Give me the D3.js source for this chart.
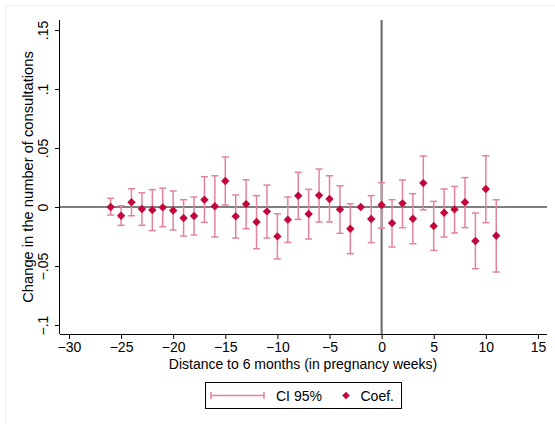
<!DOCTYPE html>
<html>
<head>
<meta charset="utf-8">
<script src="https://cdn.jsdelivr.net/npm/d3@7"></script>
<style>
  html, body { margin: 0; padding: 0; background: #fff; }
  svg { display: block; }
  text { font-family: "Liberation Sans", Arial, Helvetica, sans-serif; fill: #000; }
</style>
</head>
<body>
<svg id="chart" width="555" height="424"></svg>
<script>
// ---- data ----
const weeks = [-26,-25,-24,-23,-22,-21,-20,-19,-18,-17,-16,-15,-14,-13,-12,-11,-10,-9,-8,-7,-6,-5,-4,-3,-2,-1,0,1,2,3,4,5,6,7,8,9,10,11];
const coef  = [0.000,-0.0074,0.0040,-0.0017,-0.0025,-0.0003,-0.0030,-0.0093,-0.0076,0.0062,0.0006,0.0220,-0.0079,0.0025,-0.0127,-0.0037,-0.0249,-0.0107,0.0096,-0.0059,0.0099,0.0068,-0.0020,-0.0184,0.0000,-0.0102,0.0017,-0.0136,0.0031,-0.0099,0.0203,-0.0161,-0.0048,-0.0020,0.0040,-0.0288,0.0153,-0.0243];
const ciHi  = [0.0074,0.0010,0.0155,0.0120,0.0147,0.0160,0.0136,0.0062,0.0085,0.0257,0.0265,0.0424,0.0102,0.0231,0.0096,0.0186,-0.0057,0.0085,0.0294,0.0150,0.0322,0.0265,0.0180,0.0028,0.0000,0.0096,0.0206,0.0062,0.0229,0.0113,0.0432,0.0048,0.0153,0.0175,0.0249,-0.0051,0.0435,0.0062];
const ciLo  = [-0.0068,-0.0155,-0.0074,-0.0155,-0.0200,-0.0167,-0.0195,-0.0246,-0.0237,-0.0130,-0.0254,0.0017,-0.0263,-0.0184,-0.0353,-0.0263,-0.0440,-0.0300,-0.0105,-0.0271,-0.0127,-0.0127,-0.0223,-0.0396,0.0000,-0.0302,-0.0178,-0.0339,-0.0175,-0.0311,-0.0023,-0.0367,-0.0254,-0.0220,-0.0175,-0.0523,-0.0133,-0.0551];
const xTicks = [-30,-25,-20,-15,-10,-5,0,5,10,15];
const yTicks = [-0.1,-0.05,0,0.05,0.1,0.15];
const yTickLabels = ["\u2212.1","\u2212.05","0",".05",".1",".15"];
const xTitle = "Distance to 6 months (in pregnancy weeks)";
const yTitle = "Change in the number of consultations";
const legendLabels = ["CI 95%","Coef."];

const data = weeks.map((w,i)=>({w, c: coef[i], lo: ciLo[i], hi: ciHi[i]}));

const markerColor = "#c4063b";
const ciColor = "#e3839b";

const svg = d3.select("#chart");
const pLeft = 60, pRight = 547, pTop = 20, pBottom = 334;

const x = d3.scaleLinear().domain([-30.86, 15.87]).range([pLeft, pRight]);
const y = d3.scaleLinear().domain([-0.1076, 0.1585]).range([pBottom, pTop]);

// faint outer frame
svg.append("rect").attr("x",5.5).attr("y",5.5).attr("width",560).attr("height",430)
  .attr("fill","none").attr("stroke","#eeeeee").attr("stroke-width",1);

// reference lines
svg.append("line").attr("x1",pLeft).attr("x2",pRight).attr("y1",y(0)).attr("y2",y(0))
  .attr("stroke","#555").attr("stroke-width",1.6);
svg.append("line").attr("x1",x(0)).attr("x2",x(0)).attr("y1",pTop).attr("y2",pBottom)
  .attr("stroke","#666").attr("stroke-width",2);

// axes
const xAxis = d3.axisBottom(x).tickValues(xTicks).tickSize(5).tickPadding(3)
  .tickFormat(d => d < 0 ? "\u2212" + Math.abs(d) : String(d));
const gx = svg.append("g").attr("transform",`translate(0,${pBottom})`).call(xAxis);
gx.select(".domain").attr("d",`M${pLeft},0.5H${pRight}`).attr("stroke","#000").attr("stroke-width",1);
gx.selectAll(".tick line").attr("stroke","#000");
gx.selectAll(".tick text").attr("font-size",14).attr("fill","#000")
  .attr("font-family","'Liberation Sans', Arial, sans-serif");

const yAxis = d3.axisLeft(y).tickValues(yTicks).tickSize(5).tickPadding(4)
  .tickFormat((d,i)=>yTickLabels[i]);
const gy = svg.append("g").attr("transform",`translate(${pLeft},0)`).call(yAxis);
gy.select(".domain").attr("d",`M-0.5,${pTop}V${pBottom}`).attr("stroke","#000").attr("stroke-width",1);
gy.selectAll(".tick line").attr("stroke","#000");
gy.selectAll(".tick text")
  .attr("font-size",14).attr("fill","#000")
  .attr("font-family","'Liberation Sans', Arial, sans-serif")
  .attr("x",null).attr("dy",null)
  .attr("text-anchor","middle")
  .attr("transform","translate(-12,0) rotate(-90)")
  .attr("y",0);

// titles
svg.append("text").attr("x",303).attr("y",369).attr("text-anchor","middle")
  .attr("font-size",14).text(xTitle);
svg.append("text").attr("transform",`translate(33,${(pTop+pBottom)/2}) rotate(-90)`)
  .attr("text-anchor","middle").attr("font-size",14.7).text(yTitle);

// CIs
const capW = 3.5;
const ci = svg.append("g").attr("stroke",ciColor).attr("stroke-width",1.5).attr("fill","none");
data.forEach(d => {
  ci.append("line").attr("x1",x(d.w)).attr("x2",x(d.w)).attr("y1",y(d.lo)).attr("y2",y(d.hi));
  ci.append("line").attr("x1",x(d.w)-capW).attr("x2",x(d.w)+capW).attr("y1",y(d.lo)).attr("y2",y(d.lo));
  ci.append("line").attr("x1",x(d.w)-capW).attr("x2",x(d.w)+capW).attr("y1",y(d.hi)).attr("y2",y(d.hi));
});

// markers
const diamond = "M0,-4.2L4.2,0L0,4.2L-4.2,0Z";
svg.append("g").selectAll("path").data(data).join("path")
  .attr("d",diamond).attr("transform",d=>`translate(${x(d.w)},${y(d.c)})`)
  .attr("fill",markerColor);

// legend
const lg = svg.append("g");
lg.append("rect").attr("x",205.5).attr("y",382.5).attr("width",196).attr("height",26)
  .attr("fill","#fff").attr("stroke","#000").attr("stroke-width",1);
const ly = 395.5;
lg.append("line").attr("x1",211).attr("x2",264).attr("y1",ly).attr("y2",ly).attr("stroke",ciColor).attr("stroke-width",1.5);
lg.append("line").attr("x1",211).attr("x2",211).attr("y1",ly-3.5).attr("y2",ly+3.5).attr("stroke",ciColor).attr("stroke-width",1.5);
lg.append("line").attr("x1",264).attr("x2",264).attr("y1",ly-3.5).attr("y2",ly+3.5).attr("stroke",ciColor).attr("stroke-width",1.5);
lg.append("text").attr("x",276).attr("y",ly+5).attr("font-size",14).text(legendLabels[0]);
lg.append("path").attr("d","M0,-3.8L3.8,0L0,3.8L-3.8,0Z").attr("transform",`translate(346,${ly})`).attr("fill",markerColor);
lg.append("text").attr("x",360.5).attr("y",ly+5).attr("font-size",14).text(legendLabels[1]);
</script>
</body>
</html>
